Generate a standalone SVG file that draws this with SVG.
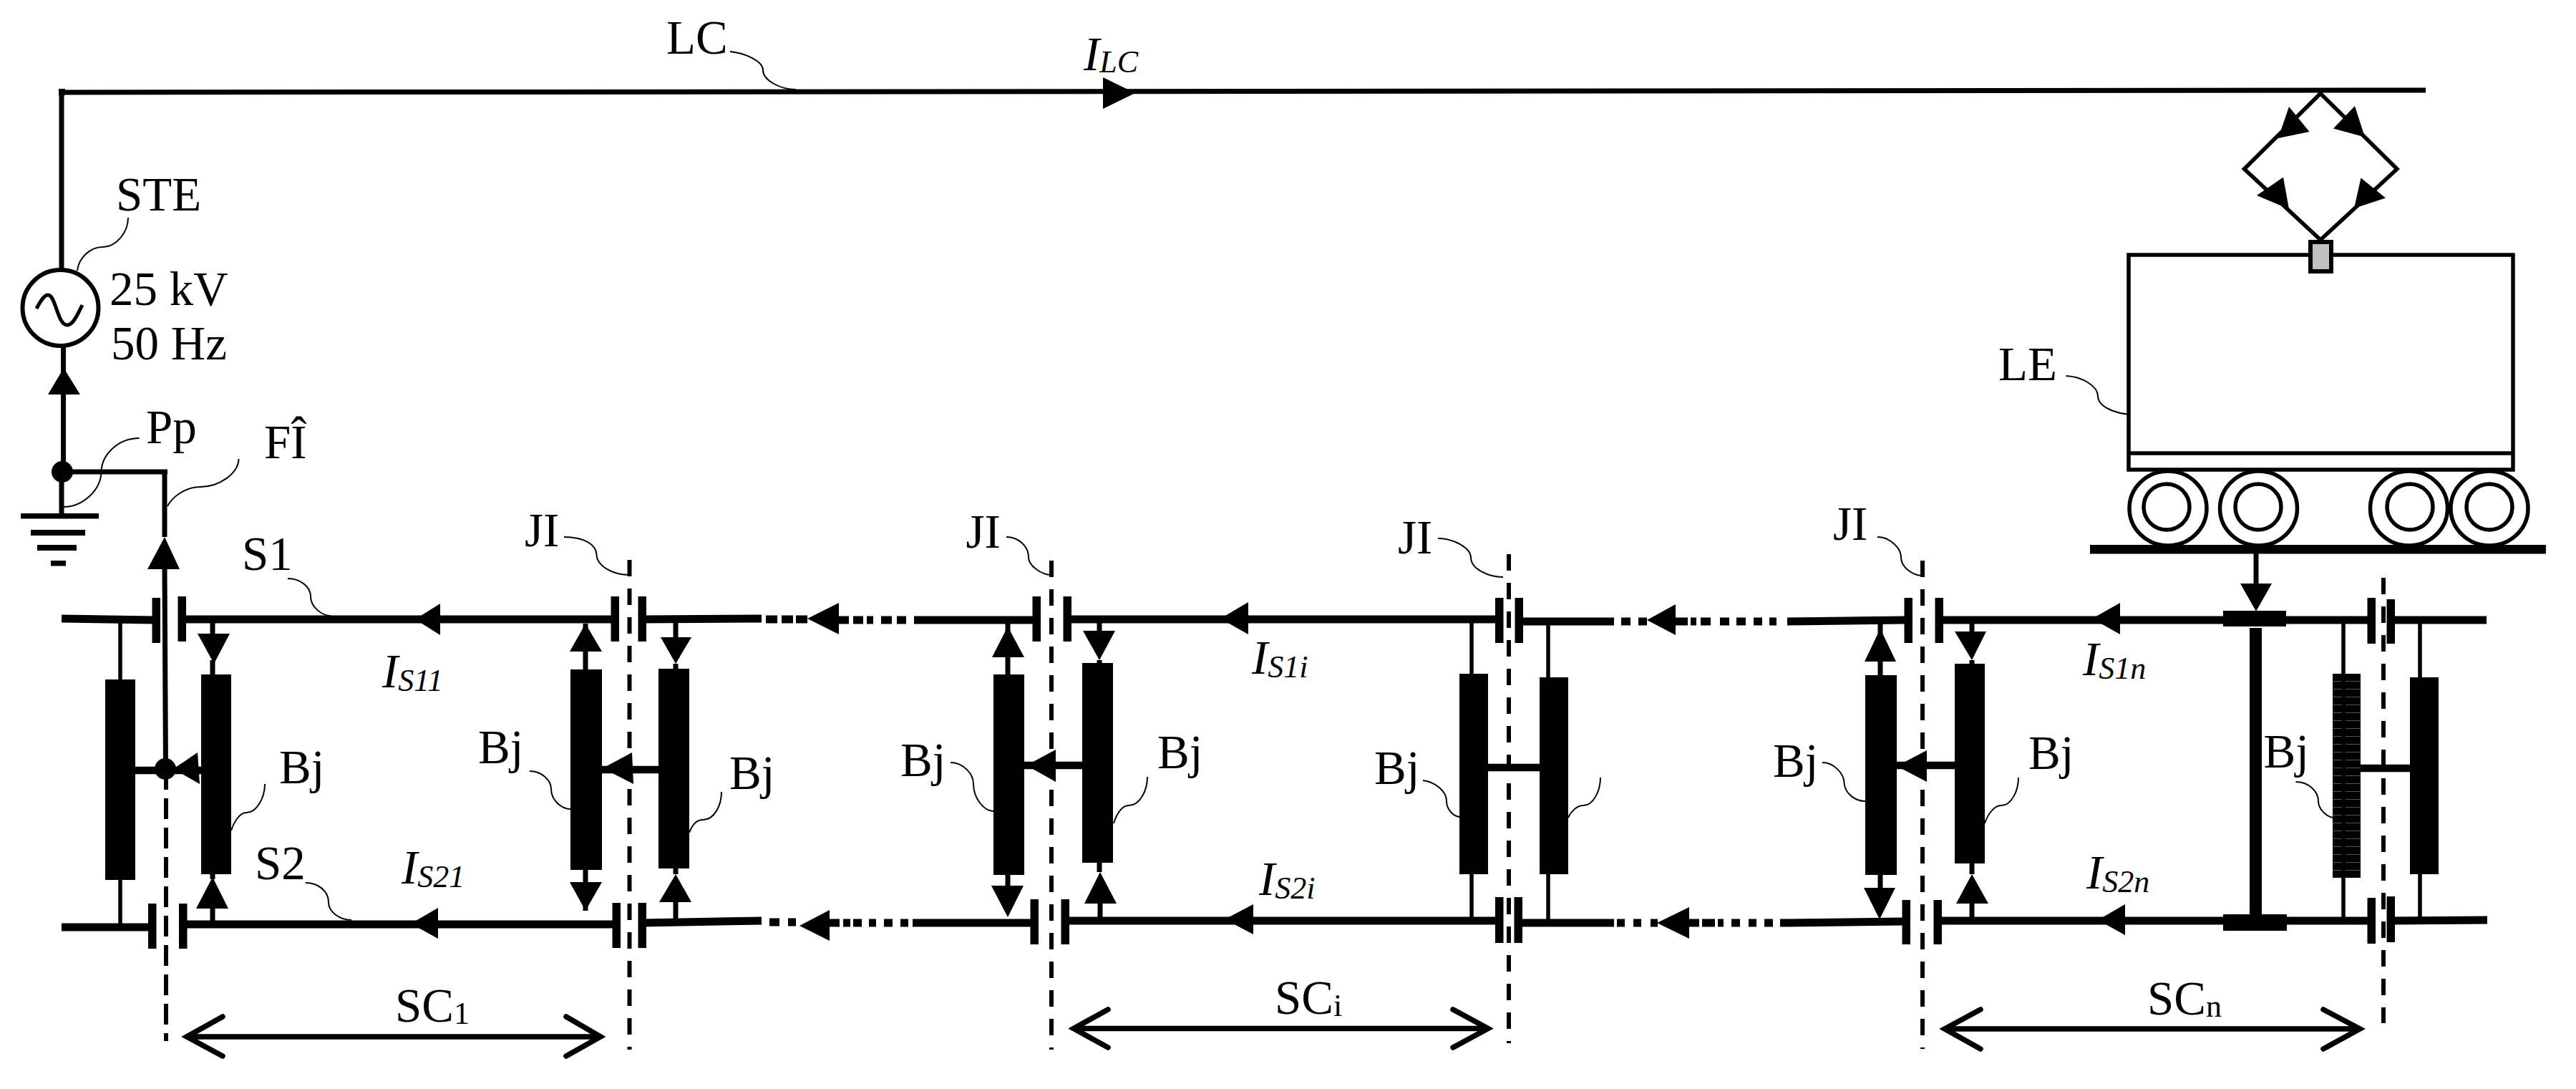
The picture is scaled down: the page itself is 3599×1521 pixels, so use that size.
<svg xmlns="http://www.w3.org/2000/svg" width="3599" height="1521" viewBox="0 0 3599 1521">
<defs>
<style>
text{font-family:"Liberation Serif","Times New Roman",serif;font-size:67px;fill:#000}
.it{font-style:italic}
.sub{font-size:44px}
.s{fill:none;stroke:#000;stroke-width:7}
.r{fill:none;stroke:#000;stroke-width:11}
.st{fill:none;stroke:#000;stroke-width:5.5}
.c{fill:none;stroke:#000;stroke-width:10.5}
.d{fill:none;stroke:#000;stroke-width:6;stroke-dasharray:23 17}
.d1{fill:none;stroke:#000;stroke-width:6;stroke-dasharray:29 12}
.l{fill:none;stroke:#000;stroke-width:2}
.a{fill:#000}
.h{fill:none;stroke:#000;stroke-width:7.500;stroke-linecap:round;stroke-linejoin:miter}
.b{fill:#000}
</style>
<pattern id="hatch" width="20" height="11" patternUnits="userSpaceOnUse" x="0" y="951"><rect width="20" height="1" fill="#555"/></pattern>
</defs>
<rect width="3599" height="1521" fill="#fff"/>

<g id="connectors">
<!-- catenary -->
<path class="s" d="M83,129L3389,126" stroke-width="7"/>
<rect class="b" x="82" y="124" width="9" height="9"/>
<path class="s" d="M86,129V376"/>
<path class="s" d="M88.500,485V658"/>
<polygon class="a" points="89,514 67,551 112,551"/>
<polygon class="a" points="1586,130 1541,108 1541,152"/>
<!-- return wire -->
<path class="s" d="M86,659V720"/>
<path class="s" d="M87,659H234"/>
<path class="s" d="M230,659V750M230,795L231.500,1074"/>
<polygon class="a" points="230,750 206,795 251,795"/>
<!-- joints -->
<path class="d1" d="M232,1074V1454"/>
<path class="d" d="M879.500,782V1466"/>
<path class="d" d="M1469,783V1466"/>
<path class="d" d="M2108,774V1457"/>
<path class="d" d="M2686,783V1465"/>
<path class="d" d="M3330,807V1429"/>
<!-- S1 rail -->
<path class="r" d="M86,864L214,866M254,865H855M897,865L1064,864M1277,866H1443M1491,865H2089M2122,868H2255M2497,868L2661,866M2709,866H3313M3340,866H3474"/>
<path class="r" d="M1070,865H1086M1092,865H1108M1112,865H1128M1172,866H1186M1192,866H1206M1211,866H1220M1231,866H1246M1253,866H1266"/>
<path class="r" d="M2265,868H2278M2289,868H2301M2341,868H2358M2362,868H2370M2376,868H2390M2403,868H2416M2426,868H2439M2450,868H2462M2472,868H2482"/>
<polygon class="a" points="580,865 615,843 615,887"/>
<polygon class="a" points="1128,864 1172,842 1172,886"/>
<polygon class="a" points="1705,864 1744,841 1744,886"/>
<polygon class="a" points="2301,866 2341,844 2341,887"/>
<polygon class="a" points="2923,864 2962,842 2962,886"/>
<!-- S2 rail -->
<path class="r" d="M86,1295H207M255,1291H856M897,1289L1064,1286M1275,1289H1440M1488,1286H2089M2121,1289H2255M2497,1289L2658,1287M2707,1286H3313M3340,1286L3475,1285"/>
<path class="r" d="M1075,1288H1089M1101,1288H1112M1159,1289H1173M1178,1289H1188M1192,1289H1204M1214,1289H1224M1235,1289H1247M1258,1289H1269"/>
<path class="r" d="M2259,1289H2270M2282,1289H2293M2306,1289H2316M2360,1289H2374M2378,1289H2396M2400,1289H2408M2419,1289H2431M2443,1289H2454M2465,1289H2477M2487,1289H2497"/>
<polygon class="a" points="574,1290 612,1268 612,1311"/>
<polygon class="a" points="1117,1293 1159,1271 1159,1314"/>
<polygon class="a" points="1711,1284 1751,1263 1751,1305"/>
<polygon class="a" points="2315,1289 2360,1267 2360,1311"/>
<polygon class="a" points="2931,1285 2969,1263 2969,1306"/>
<!-- stems and arrows at the bonds -->
<path class="st" d="M168,866V949M168,1229V1295M2056,866V941M2056,1221V1286M2163,868V946M2163,1221V1289M3274,866V941M3274,1226V1286M3381,866V946M3381,1221V1286"/>
<path class="s" d="M297,866V885M297,922V942M297,1221V1228M297,1269V1290"/>
<polygon class="a" points="299,927 276,885 321,885"/><polygon class="a" points="297,1225 274,1269 319,1269"/>
<path class="s" d="M818,871V935M818,1215V1272"/>
<polygon class="a" points="818,871 796,910 841,910"/><polygon class="a" points="818,1272 796,1232 841,1232"/>
<path class="s" d="M944,866V890M944,927V934M944,1213V1221M944,1260V1289"/>
<polygon class="a" points="944,927 923,890 966,890"/><polygon class="a" points="944,1221 921,1260 966,1260"/>
<path class="s" d="M1408,870V942M1408,1222V1237"/>
<polygon class="a" points="1408,875 1386,918 1431,918"/><polygon class="a" points="1408,1281 1385,1237 1430,1237"/>
<path class="s" d="M1536,866V881M1536,922V926M1536,1205V1218M1537,1262V1286"/>
<polygon class="a" points="1536,922 1513,881 1558,881"/><polygon class="a" points="1537,1218 1515,1262 1560,1262"/>
<path class="s" d="M2627,870V943M2627,1222V1240"/>
<polygon class="a" points="2627,878 2605,924 2649,924"/><polygon class="a" points="2626,1284 2604,1240 2648,1240"/>
<path class="s" d="M2755,866V882M2755,922V927M2755,1206V1221M2755,1262V1286"/>
<polygon class="a" points="2755,922 2731,882 2775,882"/><polygon class="a" points="2755,1221 2733,1262 2778,1262"/>
<!-- bond-to-bond links -->
<path class="c" d="M189,1076H281M841,1075H920M1431,1069H1512M2079,1072H2151M2650,1069H2731M3298,1073H3367"/>
<polygon class="a" points="242,1074 276,1051 279,1095"/>
<polygon class="a" points="842,1073 883,1051 885,1095"/>
<polygon class="a" points="1434,1069 1475,1047 1475,1092"/>
<polygon class="a" points="2650,1070 2692,1048 2692,1092"/>
<!-- loco return -->
<path class="s" d="M3152,767V815" stroke-width="8"/>
<polygon class="a" points="3152,854 3130,815 3174,815"/>
<!-- pantograph -->
<path class="st" d="M3242,130.500L3135.500,236L3242,335L3349,236Z"/>
<polygon class="a" points="3198,149 3183,193 3226.500,184"/>
<polygon class="a" points="3290,148 3260,179.500 3304,191.500"/>
<polygon class="a" points="3190,247.500 3153,273 3198,292"/>
<polygon class="a" points="3298.500,248.500 3289,291 3333,276.500"/>
<!-- section arrows -->
<path class="h" d="M261,1448H839M311,1420L261,1448L311,1475M791,1420L839,1448L791,1475"/>
<path class="h" d="M1500,1436.500H2079M1548,1410L1500,1436.500L1548,1463M2030,1410L2079,1436.500L2030,1463"/>
<path class="h" d="M2717,1437H3297M2767,1410L2717,1437L2767,1465M3246,1410L3297,1437L3246,1465"/>
<!-- leaders -->
<path class="l" d="M179,304C179,325 162,345 143.500,345C126,345 110,360 108,378"/>
<path class="l" d="M194.500,612C165,612 142,635 141.500,659C141,685 115,708 89,708"/>
<path class="l" d="M333.500,641C333,662 305,680 280.600,680C258,680 240,695 234,707"/>
<path class="l" d="M1020,72C1040,74 1066,85 1066,98C1066,112 1090,125 1112,125"/>
<path class="l" d="M788,750C815,750 833,760 833.500,775C834,790 855,803 880,803"/>
<path class="l" d="M1406,750C1422,750 1437,762 1437,778.500C1437,790 1455,803 1469,803"/>
<path class="l" d="M2009,752C2030,752 2055,765 2055,778.500C2055,795 2080,806 2100,806"/>
<path class="l" d="M2623,750C2640,750 2656,765 2656,778.500C2656,792 2672,804 2686,804"/>
<path class="l" d="M402,808C420,808 434,820 434,833C434,848 450,860 462,860"/>
<path class="l" d="M427,1233C445,1233 459,1245 459,1260C459,1274 475,1285 491,1285"/>
<path class="l" d="M370,1095C370,1115 358,1135 344.400,1135C334,1135 326,1150 323,1160"/>
<path class="l" d="M740,1077C757,1077 770,1090 770,1102C770,1118 785,1130 797,1130"/>
<path class="l" d="M1008,1106C1008,1125 998,1145 982,1145C972,1145 966,1155 963,1163"/>
<path class="l" d="M1328,1065C1345,1065 1360,1080 1360,1095C1360,1115 1375,1133 1388,1133"/>
<path class="l" d="M1603,1085C1603,1105 1592,1125 1577,1125C1566,1125 1559,1140 1556,1150"/>
<path class="l" d="M1988,1090C2005,1092 2021,1105 2021,1119C2021,1130 2030,1140 2039,1141"/>
<path class="l" d="M2236,1086C2236,1105 2226,1125 2212,1125C2202,1125 2194,1135 2191,1142"/>
<path class="l" d="M2546,1065C2562,1065 2576,1080 2576.500,1093C2577,1108 2592,1119 2606,1119"/>
<path class="l" d="M2820,1086C2820,1105 2810,1125 2796,1125C2785,1125 2776,1140 2773,1150"/>
<path class="l" d="M3207.500,1092C3225,1092 3239,1105 3239,1119C3239,1130 3250,1140 3259,1142"/>
<path class="l" d="M2886.400,525C2910,526 2931,540 2931,553C2931,568 2955,578 2978.500,579"/>
</g>

<g id="source-STE">
<circle cx="84.500" cy="430" r="53" fill="#fff" stroke="#000" stroke-width="6"/>
<path d="M51,431C58,418 62,412 67,412C78,412 80,454 94,454C102,454 108,440 115,426" fill="none" stroke="#000" stroke-width="5"/>
<text x="162" y="294">STE</text>
<text x="153" y="425.500">25 kV</text>
<text x="155" y="502">50 Hz</text>
</g>
<g id="ground">
<circle cx="87" cy="659" r="15" class="b"/>
<rect class="b" x="29" y="717" width="109" height="7.500"/>
<rect class="b" x="43" y="740" width="76" height="8"/>
<rect class="b" x="52" y="761" width="55" height="8"/>
<rect class="b" x="71" y="783" width="21" height="7.500"/>
<text x="204" y="619">Pp</text>
</g>
<g id="feeder-FI">
<circle cx="231" cy="1074" r="15" class="b"/>
<text x="369" y="640">FÎ</text>
</g>
<g id="line-LC">
<text x="931" y="75">LC</text>
<text class="it" x="1514" y="98">I<tspan class="sub" dy="3">LC</tspan></text>
</g>

<g id="joint-1">
<rect class="b" x="212.500" y="835" width="11.500" height="63"/><rect class="b" x="248.500" y="833" width="11.500" height="63"/>
<rect class="b" x="207" y="1262" width="11.500" height="63"/><rect class="b" x="250" y="1262" width="11.500" height="63"/>
</g>
<g id="joint-2">
<text x="733" y="763">JI</text>
<rect class="b" x="853.500" y="833" width="11.500" height="63"/><rect class="b" x="891.500" y="833" width="11.500" height="63"/>
<rect class="b" x="855.500" y="1261" width="11.500" height="63"/><rect class="b" x="891.500" y="1261" width="11.500" height="63"/>
</g>
<g id="joint-3">
<text x="1349.500" y="765">JI</text>
<rect class="b" x="1442.500" y="833" width="11.500" height="63"/><rect class="b" x="1485.500" y="833" width="11.500" height="63"/>
<rect class="b" x="1439.500" y="1256" width="11.500" height="63"/><rect class="b" x="1482.500" y="1256" width="11.500" height="63"/>
</g>
<g id="joint-4">
<text x="1953" y="773">JI</text>
<rect class="b" x="2089" y="835" width="11.500" height="63"/><rect class="b" x="2116.500" y="835" width="11.500" height="63"/>
<rect class="b" x="2089" y="1253" width="11.500" height="64"/><rect class="b" x="2115.500" y="1253" width="11.500" height="64"/>
</g>
<g id="joint-5">
<text x="2561" y="754">JI</text>
<rect class="b" x="2660.500" y="835" width="11.500" height="63"/><rect class="b" x="2703.500" y="835" width="11.500" height="63"/>
<rect class="b" x="2657.500" y="1257" width="11.500" height="62"/><rect class="b" x="2701.500" y="1257" width="11.500" height="62"/>
</g>
<g id="joint-6">
<rect class="b" x="3307.500" y="835" width="11.500" height="64"/><rect class="b" x="3334.500" y="837" width="11.500" height="62"/>
<rect class="b" x="3307.500" y="1254" width="11.500" height="64"/><rect class="b" x="3334.500" y="1252" width="11.500" height="64"/>
</g>

<g id="bond-1"><rect class="b" x="147" y="949" width="42" height="280"/><rect class="b" x="281" y="942" width="42" height="279"/><text x="390" y="1094">Bj</text></g>
<g id="bond-2"><rect class="b" x="797" y="935" width="44" height="280"/><rect class="b" x="920" y="934" width="43" height="279"/><text x="668" y="1066">Bj</text><text x="1019" y="1101.500">Bj</text></g>
<g id="bond-3"><rect class="b" x="1388" y="942" width="43" height="280"/><rect class="b" x="1512" y="926" width="43" height="279"/><text x="1258" y="1084">Bj</text><text x="1617" y="1073">Bj</text></g>
<g id="bond-4"><rect class="b" x="2039" y="941" width="40" height="280"/><rect class="b" x="2151" y="946" width="40" height="275"/><text x="1920" y="1095">Bj</text></g>
<g id="bond-5"><rect class="b" x="2606" y="943" width="44" height="279"/><rect class="b" x="2731" y="927" width="42" height="279"/><text x="2477" y="1085">Bj</text><text x="2834" y="1074">Bj</text></g>
<g id="bond-6"><rect class="b" x="3259" y="941" width="39" height="285"/><rect fill="url(#hatch)" x="3259" y="941" width="39" height="285"/><rect class="b" x="3272" y="941" width="5" height="285"/><rect class="b" x="3367" y="946" width="40" height="275"/><text x="3162.500" y="1072">Bj</text></g>

<g id="shunt">
<rect class="b" x="3106" y="853" width="88" height="22"/>
<rect class="b" x="3143" y="877" width="17" height="400"/>
<rect class="b" x="3106" y="1277" width="89" height="23"/>
</g>

<g id="loco-LE">
<rect x="2974" y="356" width="537" height="300" fill="#fff" stroke="#000" stroke-width="5.500"/>
<path class="st" d="M2974,633H3511"/>
<rect x="3228" y="338" width="29" height="41" fill="#c0c0c0" stroke="#000" stroke-width="6"/>
<rect class="b" x="2920" y="761" width="637" height="12.500"/>
<g fill="#fff" stroke="#000" stroke-width="5.500">
<ellipse cx="3029" cy="710" rx="54" ry="52"/><ellipse cx="3027" cy="708" rx="32" ry="32"/>
<ellipse cx="3155.500" cy="710" rx="54" ry="52"/><ellipse cx="3155" cy="708" rx="32" ry="32"/>
<ellipse cx="3365.500" cy="710" rx="54" ry="52"/><ellipse cx="3367" cy="708" rx="32" ry="32"/>
<ellipse cx="3478" cy="710" rx="54" ry="52"/><ellipse cx="3478" cy="708" rx="32" ry="32"/>
</g>
<text x="2792" y="531">LE</text>
</g>

<g id="labels">
<text x="338" y="796">S1</text>
<text x="356" y="1228">S2</text>
<text class="it" x="534" y="960">I<tspan class="sub" dy="5">S11</tspan></text>
<text class="it" x="561" y="1234">I<tspan class="sub" dy="5">S21</tspan></text>
<text class="it" x="1749" y="941">I<tspan class="sub" dy="5">S1i</tspan></text>
<text class="it" x="1759" y="1250">I<tspan class="sub" dy="5">S2i</tspan></text>
<text class="it" x="2910" y="943">I<tspan class="sub" dy="5">S1n</tspan></text>
<text class="it" x="2915" y="1241">I<tspan class="sub" dy="5">S2n</tspan></text>
<text x="552" y="1427">SC<tspan class="sub" dy="3">1</tspan></text>
<text x="1781" y="1416">SC<tspan class="sub" dy="3">i</tspan></text>
<text x="3000" y="1417">SC<tspan class="sub" dy="3">n</tspan></text>
</g>
</svg>
